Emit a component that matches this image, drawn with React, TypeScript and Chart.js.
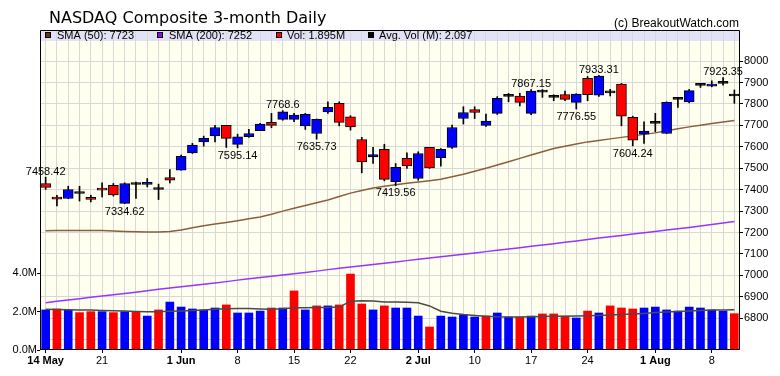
import React, { useEffect, useRef } from 'react';
import { Chart, registerables } from 'chart.js';
Chart.register(...registerables);

const TITLE = 'NASDAQ Composite 3-month Daily';
const COPYRIGHT = '(c) BreakoutWatch.com';
const legendText = ['SMA (50): 7723', 'SMA (200): 7252', 'Vol: 1.895M', 'Avg. Vol (M): 2.097'];
const legendColor = ['#663300', '#9900FF', '#FF0000', '#000000'];

const dates = [
  '05-14','05-15','05-16','05-17','05-18','05-21','05-22','05-23','05-24','05-29',
  '05-30','05-31','06-01','06-04','06-05','06-06','06-07','06-08','06-11','06-12',
  '06-13','06-14','06-15','06-18','06-19','06-20','06-21','06-22','06-25','06-26',
  '06-27','06-28','06-29','07-02','07-03','07-05','07-06','07-09','07-10','07-11',
  '07-12','07-13','07-16','07-17','07-18','07-19','07-20','07-23','07-24','07-25',
  '07-26','07-27','07-30','07-31','08-01','08-02','08-03','08-06','08-07','08-08',
  '08-09','08-10'
];
const opens = [
  7429,7366,7359,7382,7364,7407,7420,7336,7424,7424,
  7401,7457,7491,7572,7623,7651,7700,7611,7647,7675,
  7714,7728,7728,7697,7662,7763,7803,7740,7634,7553,
  7588,7437,7546,7452,7597,7549,7597,7732,7774,7700,
  7756,7835,7837,7756,7855,7831,7844,7807,7919,7841,
  7852,7893,7737,7659,7709,7662,7821,7810,7887,7883,
  7896,7837
];
const highs = [
  7458.42,7374,7416,7416,7374,7432,7429,7432,7436,7452,
  7426,7494,7561,7616,7650,7700,7700,7659,7681,7709,
  7756,7768.6,7756,7756,7730,7810,7810,7745,7644,7597,
  7612,7522,7572,7577,7597,7592,7701,7787,7787,7753,
  7834,7849,7849,7867.15,7867,7843,7860,7848,7928,7933.31,
  7868,7896,7743,7717,7756,7810,7826,7868,7896,7908,
  7923.35,7865
];
const lows = [
  7401,7324,7358,7347,7343,7366,7370,7334.62,7359,7413,
  7354,7432,7491,7569,7603,7623,7597,7595.14,7644,7675,
  7689,7724,7717,7681,7635.73,7756,7698,7678,7479,7522,
  7441,7419.56,7499,7444,7499,7510,7592,7706,7732,7695,
  7751,7810,7791,7750,7831,7815,7815,7776.55,7815,7835,
  7837,7698,7604.24,7616,7670,7662,7784,7805,7877,7880,
  7888,7803
];
const closes = [
  7410,7356,7401,7382,7354,7398,7376,7429,7424,7434,
  7401,7444,7556,7608,7639,7690,7639,7647,7662,7706,
  7700,7763,7748,7751,7728,7784,7714,7693,7530,7564,
  7448,7504,7511,7569,7502,7588,7690,7760,7760,7720,
  7826,7835,7807,7860,7855,7831,7821,7846,7843,7930,
  7852,7743,7631,7673,7709,7807,7821,7862,7887,7893,
  7896,7837
];
const volumes = [
  2.09,2.14,2.09,1.95,2.00,2.00,1.95,2.00,2.00,1.77,
  2.09,2.50,2.24,2.14,2.09,2.19,2.35,1.93,1.93,2.03,
  2.19,2.19,3.08,2.09,2.30,2.30,2.35,3.96,2.40,2.09,
  2.30,2.19,2.19,1.77,1.20,1.77,1.72,1.83,1.72,1.77,
  1.93,1.72,1.72,1.77,1.88,1.88,1.77,1.67,2.03,1.93,
  2.30,2.19,2.14,2.19,2.24,2.09,2.03,2.24,2.19,2.09,
  2.03,1.895
];
const volUp = [
  1,0,1,0,0,1,0,1,0,1,
  0,1,1,1,1,1,0,1,1,1,
  0,1,0,1,0,1,0,0,0,1,
  0,1,1,1,0,1,1,1,1,0,
  1,1,0,1,0,0,0,1,0,1,
  0,0,0,1,1,1,1,1,1,1,
  1,0
];
const avgVol = [
  2.12,2.11,2.10,2.09,2.08,2.06,2.05,2.03,2.01,1.99,
  2.00,2.02,2.04,2.06,2.09,2.12,2.15,2.17,2.16,2.14,
  2.13,2.15,2.20,2.21,2.22,2.22,2.24,2.54,2.57,2.56,
  2.50,2.50,2.49,2.46,2.30,2.02,1.92,1.85,1.80,1.76,
  1.73,1.72,1.72,1.74,1.75,1.76,1.76,1.77,1.78,1.80,
  1.82,1.85,1.88,1.91,1.95,1.98,2.01,2.04,2.06,2.08,
  2.09,2.097
];
const sma50 = [
  7208,7209,7210,7210,7210,7209,7207,7205,7204,7203,
  7203,7205,7212,7222,7232,7240,7247,7255,7264,7273,
  7285,7300,7313,7326,7339,7352,7368,7384,7396,7408,
  7416,7423,7430,7436,7442,7449,7460,7472,7486,7500,
  7515,7530,7546,7562,7577,7592,7603,7613,7623,7630,
  7637,7644,7651,7658,7665,7675,7684,7693,7701,7709,
  7716,7723
];
const sma200 = [
  6873,6879,6885,6891,6898,6904,6910,6916,6922,6928,
  6935,6941,6947,6953,6959,6965,6971,6978,6984,6990,
  6996,7002,7008,7014,7020,7027,7033,7039,7045,7051,
  7057,7063,7069,7075,7081,7087,7093,7099,7105,7111,
  7117,7123,7129,7136,7142,7148,7155,7161,7167,7174,
  7180,7186,7193,7199,7205,7212,7218,7224,7231,7237,
  7244,7252
];
const tickIndex = [0, 5, 12, 17, 22, 27, 33, 38, 43, 48, 54, 59];
const tickText = ['14 May', '21', '1 Jun', '8', '15', '22', '2 Jul', '10', '17', '24', '1 Aug', '8'];
const tickBold = [1, 0, 1, 0, 0, 0, 1, 0, 0, 0, 1, 0];
const priceTicks = [6700, 6800, 6900, 7000, 7100, 7200, 7300, 7400, 7500, 7600, 7700, 7800, 7900, 8000];
const priceLabelMin = 6800;
const volTicks = [0, 2, 4];
const noteIndex = [0, 7, 17, 21, 24, 31, 43, 47, 49, 52, 60];
const noteValue = [7458.42, 7334.62, 7595.14, 7768.6, 7635.73, 7419.56, 7867.15, 7776.55, 7933.31, 7604.24, 7923.35];
const noteAbove = [1, 0, 0, 1, 0, 0, 1, 0, 1, 0, 1];

const BLUE = '#0000FF';
const RED = '#FF0000';
const GRID = '#D8D8D8';
const FONT = '"Liberation Sans", Arial, sans-serif';

export default function App() {
  const ref = useRef<HTMLCanvasElement>(null);
  useEffect(() => {
    document.body.style.margin = '0';
    const canvas = ref.current!;
    const bodyData = dates.map((_, i) => [opens[i], closes[i]]);
    const wickData = dates.map((_, i) => [lows[i], highs[i]]);
    const bodyColors = dates.map((_, i) =>
      closes[i] > opens[i] ? BLUE : closes[i] < opens[i] ? RED : '#000000');
    const volColors = volUp.map((u) => (u ? BLUE : RED));

    const decor = {
      id: 'decor',
      beforeDraw(chart: any) {
        const { ctx, chartArea: a } = chart;
        ctx.save();
        ctx.fillStyle = '#FFFFFF';
        ctx.fillRect(0, 0, chart.width, chart.height);
        ctx.fillStyle = '#FFFFF0';
        ctx.fillRect(a.left, a.top, a.right - a.left, a.bottom - a.top);
        ctx.fillStyle = '#E2E2F6';
        ctx.fillRect(a.left, a.top, a.right - a.left, 11);
        ctx.restore();
      },
      afterDatasetsDraw(chart: any) {
        const { ctx, chartArea: a } = chart;
        const xs = chart.scales.x;
        const ys = chart.scales.y;
        ctx.save();
        ctx.fillStyle = '#000';
        ctx.font = '11px ' + FONT;
        ctx.textAlign = 'center';
        ctx.textBaseline = 'alphabetic';
        noteIndex.forEach((idx, k) => {
          const x = xs.getPixelForValue(idx);
          const y = ys.getPixelForValue(noteValue[k]);
          ctx.fillText(String(noteValue[k]), x, noteAbove[k] ? y - 2.5 : y + 11);
        });
        ctx.strokeStyle = '#000';
        ctx.lineWidth = 1;
        ctx.beginPath();
        ctx.moveTo(a.left + 0.5, a.bottom);
        ctx.lineTo(a.left + 0.5, a.top + 0.5);
        ctx.lineTo(a.right - 0.5, a.top + 0.5);
        ctx.lineTo(a.right - 0.5, a.bottom - 0.5);
        ctx.lineTo(a.left, a.bottom - 0.5);
        ctx.stroke();
        const sqX = [45, 157, 276, 368];
        const txX = [57, 169, 287, 379];
        ctx.textAlign = 'left';
        legendText.forEach((t, k) => {
          ctx.fillStyle = '#000';
          ctx.fillRect(sqX[k], a.top + 2, 6, 6);
          ctx.fillStyle = legendColor[k];
          ctx.fillRect(sqX[k] + 1, a.top + 3, 4, 4);
          ctx.fillStyle = '#000';
          ctx.fillText(t, txX[k], a.top + 9);
        });
        ctx.restore();
      },
      afterDraw(chart: any) {
        const { ctx } = chart;
        ctx.save();
        ctx.fillStyle = '#000';
        ctx.textBaseline = 'alphabetic';
        ctx.font = '16px "DejaVu Sans", sans-serif';
        ctx.textAlign = 'left';
        ctx.fillText(TITLE, 49, 23);
        ctx.font = '12px ' + FONT;
        ctx.textAlign = 'right';
        ctx.fillText(COPYRIGHT, 739, 27);
        ctx.restore();
      },
    };

    const labelFor = (i: number) => {
      const k = tickIndex.indexOf(i);
      return k >= 0 ? tickText[k] : '';
    };

    const chart = new Chart(canvas, {
      type: 'bar',
      data: {
        labels: dates,
        datasets: [
          {
            type: 'bar', label: 'body', data: bodyData as any, yAxisID: 'y',
            backgroundColor: bodyColors, borderColor: '#000', borderWidth: 1,
            borderSkipped: false, barThickness: 10, minBarLength: 2, grouped: false, order: 0,
          } as any,
          {
            type: 'bar', label: 'wick', data: wickData as any, yAxisID: 'y',
            backgroundColor: '#000', borderWidth: 0, barThickness: 1, grouped: false, order: 1,
          } as any,
          {
            type: 'line', label: 'sma50', data: sma50, yAxisID: 'y',
            borderColor: '#8B5E3C', borderWidth: 1.5, pointRadius: 0, order: 2,
          },
          {
            type: 'line', label: 'sma200', data: sma200, yAxisID: 'y',
            borderColor: '#9933FF', borderWidth: 1.5, pointRadius: 0, order: 3,
          },
          {
            type: 'line', label: 'avgVol', data: avgVol, yAxisID: 'yv',
            borderColor: '#4A4A4A', borderWidth: 1.5, pointRadius: 0, order: 4,
          },
          {
            type: 'bar', label: 'vol', data: volumes, yAxisID: 'yv',
            backgroundColor: volColors, borderWidth: 0, barThickness: 8, grouped: false, order: 5,
          } as any,
        ],
      },
      options: {
        responsive: false,
        animation: false,
        maintainAspectRatio: false,
        events: [],
        layout: { padding: { top: 30, left: 0, right: 0, bottom: 0 } },
        plugins: { legend: { display: false }, tooltip: { enabled: false }, title: { display: false } },
        scales: {
          x: {
            type: 'category',
            offset: true,
            grid: {
              offset: false, color: GRID, lineWidth: 1, tickLength: 3,
              tickColor: (c: any) => (tickIndex.indexOf(c.index) >= 0 ? '#000' : 'rgba(0,0,0,0)'),
            },
            border: { display: false },
            ticks: {
              autoSkip: false, maxRotation: 0, minRotation: 0, padding: 1, color: '#000',
              font: (c: any) => {
                const k = tickIndex.indexOf(c.index);
                return { family: FONT, size: 11, weight: k >= 0 && tickBold[k] ? 'bold' : 'normal' };
              },
              callback: (_v: any, i: number) => labelFor(i),
            },
            afterFit: (s: any) => { s.height = 26; },
          } as any,
          y: {
            type: 'linear', position: 'right', min: 6652, max: 8145,
            afterBuildTicks: (s: any) => { s.ticks = priceTicks.map((v) => ({ value: v })); },
            grid: {
              color: GRID, lineWidth: 1, tickLength: 3,
              tickColor: (c: any) => (c.tick && c.tick.value >= priceLabelMin ? '#000' : 'rgba(0,0,0,0)'),
            },
            border: { display: false },
            ticks: {
              padding: 1, color: '#000', font: { family: FONT, size: 11 },
              callback: (v: any) => (Number(v) >= priceLabelMin ? String(v) : ''),
            },
            afterFit: (s: any) => { s.width = 40; },
          } as any,
          yv: {
            type: 'linear', position: 'left', min: 0, max: 16.69,
            afterBuildTicks: (s: any) => { s.ticks = volTicks.map((v) => ({ value: v })); },
            grid: { drawOnChartArea: false, tickLength: 3, tickColor: '#000', color: '#000' },
            border: { display: false },
            ticks: {
              padding: 0, color: '#000', font: { family: FONT, size: 11 },
              callback: (v: any) => Number(v).toFixed(1) + 'M',
            },
            afterFit: (s: any) => { s.width = 40; },
          } as any,
        },
      },
      plugins: [decor],
    });
    return () => chart.destroy();
  }, []);
  return (
    <div style={{ width: 780, height: 376 }}>
      <canvas ref={ref} width={780} height={376} style={{ display: 'block' }} />
    </div>
  );
}
